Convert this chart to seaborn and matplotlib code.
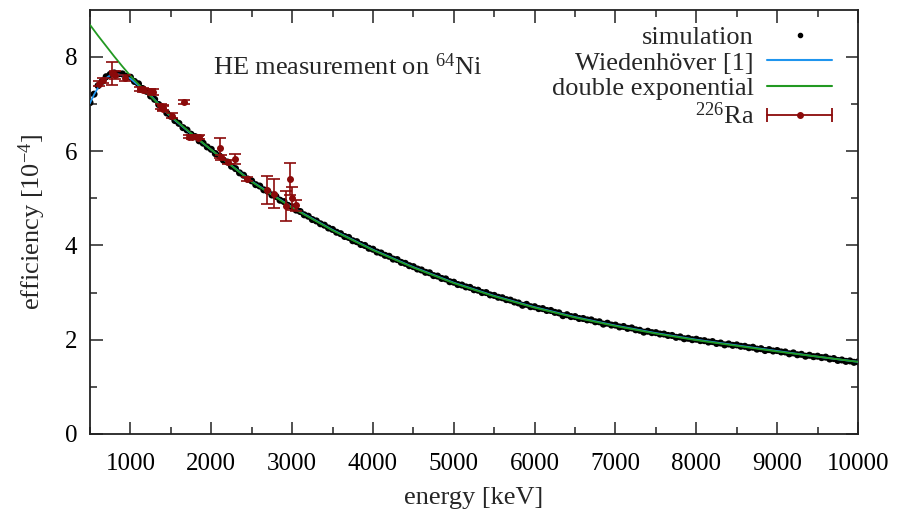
import numpy as np
import pandas as pd
import matplotlib
matplotlib.use("Agg")
import matplotlib.pyplot as plt
from matplotlib.lines import Line2D
from matplotlib.legend_handler import HandlerLine2D, HandlerTuple
import seaborn as sns

# --- simulated full-energy-peak efficiency (50 keV steps, units of 1e-4) ---
sim_energy = list(range(500, 10001, 50))
sim_eff = [
    7.03, 7.21, 7.39, 7.48, 7.58, 7.63, 7.66, 7.64, 7.64, 7.59,  # 500-950
    7.57, 7.48, 7.43, 7.33, 7.27, 7.17, 7.10, 6.99, 6.92, 6.81,  # 1000-1450
    6.74, 6.65, 6.59, 6.50, 6.45, 6.36, 6.31, 6.22, 6.17, 6.09,  # 1500-1950
    6.04, 5.95, 5.90, 5.81, 5.77, 5.68, 5.63, 5.54, 5.49, 5.41,  # 2000-2450
    5.37, 5.29, 5.26, 5.18, 5.15, 5.07, 5.04, 4.96, 4.93, 4.85,  # 2500-2950
    4.82, 4.75, 4.72, 4.65, 4.62, 4.55, 4.52, 4.46, 4.43, 4.37,  # 3000-3450
    4.34, 4.28, 4.25, 4.19, 4.17, 4.10, 4.08, 4.02, 4.00, 3.94,  # 3500-3950
    3.92, 3.86, 3.84, 3.79, 3.77, 3.71, 3.70, 3.64, 3.62, 3.57,  # 4000-4450
    3.55, 3.50, 3.48, 3.43, 3.42, 3.36, 3.35, 3.30, 3.29, 3.23,  # 4500-4950
    3.22, 3.17, 3.16, 3.12, 3.11, 3.06, 3.05, 3.00, 3.00, 2.95,  # 5000-5450
    2.94, 2.90, 2.89, 2.85, 2.84, 2.80, 2.78, 2.73, 2.75, 2.70,  # 5500-5950
    2.70, 2.66, 2.66, 2.62, 2.62, 2.58, 2.57, 2.51, 2.53, 2.49,  # 6000-6450
    2.49, 2.45, 2.45, 2.42, 2.42, 2.38, 2.38, 2.33, 2.35, 2.31,  # 6500-6950
    2.31, 2.27, 2.28, 2.24, 2.25, 2.21, 2.20, 2.16, 2.18, 2.15,  # 7000-7450
    2.15, 2.12, 2.12, 2.09, 2.09, 2.05, 2.06, 2.02, 2.03, 2.00,  # 7500-7950
    2.01, 1.98, 1.98, 1.95, 1.96, 1.92, 1.93, 1.89, 1.91, 1.88,  # 8000-8450
    1.89, 1.86, 1.86, 1.83, 1.84, 1.80, 1.81, 1.77, 1.79, 1.76,  # 8500-8950
    1.77, 1.74, 1.74, 1.70, 1.72, 1.68, 1.69, 1.65, 1.67, 1.64,  # 9000-9450
    1.65, 1.62, 1.63, 1.59, 1.60, 1.56, 1.57, 1.54, 1.55, 1.52,  # 9500-9950
    1.53,                                                        # 10000
]

# --- Wiedenhoever parametrisation ---
wied_energy = [500, 550, 600, 650, 700, 750, 800, 850, 900, 1000, 1250, 1500,
               1750, 2000, 2500, 3000, 3500, 4000, 4500, 5000, 5500, 6000,
               6500, 7000, 7500, 8000, 8500, 9000, 9500, 10000]
wied_eff = [7.02, 7.20, 7.35, 7.47, 7.55, 7.61, 7.63, 7.63, 7.61, 7.54, 7.18, 6.73,
            6.37, 6.03, 5.36, 4.81, 4.33, 3.91, 3.54, 3.21, 2.93, 2.69,
            2.48, 2.30, 2.14, 2.00, 1.88, 1.76, 1.64, 1.53]

# --- double exponential fit ---
dexp_energy = [500, 600, 700, 800, 900, 1000, 1100, 1200, 1300, 1400, 1500,
               1750, 2000, 2500, 3000, 3500, 4000, 4500, 5000, 5500, 6000,
               6500, 7000, 7500, 8000, 8500, 9000, 9500, 10000]
dexp_eff = [8.68, 8.45, 8.23, 8.01, 7.80, 7.60, 7.42, 7.25, 7.08, 6.91, 6.74,
            6.38, 6.03, 5.35, 4.80, 4.32, 3.90, 3.53, 3.20, 2.92, 2.68,
            2.47, 2.29, 2.13, 1.99, 1.87, 1.75, 1.64, 1.53]

# --- 226Ra source measurement ---
ra_energy = [609, 665, 768, 806, 934, 1120, 1155, 1238, 1281, 1378, 1401, 1408,
             1509, 1661, 1730, 1765, 1838, 1847, 2110, 2119, 2204, 2293, 2448,
             2695, 2770, 2928, 2978, 3000, 3054]
ra_eff = [7.43, 7.50, 7.65, 7.62, 7.55, 7.32, 7.30, 7.28, 7.25, 6.95, 6.92, 6.90,
          6.75, 7.05, 6.31, 6.30, 6.29, 6.30, 6.07, 5.87, 5.77, 5.83, 5.41,
          5.18, 5.10, 4.83, 5.41, 5.00, 4.85]
ra_err = [0.05, 0.06, 0.25, 0.08, 0.06, 0.05, 0.05, 0.05, 0.06, 0.06, 0.05, 0.05,
          0.05, 0.04, 0.04, 0.05, 0.04, 0.05, 0.22, 0.05, 0.05, 0.10, 0.05,
          0.29, 0.31, 0.32, 0.33, 0.25, 0.12]

sim_df = pd.DataFrame({"energy": sim_energy, "eff": sim_eff})
wied_df = pd.DataFrame({"energy": wied_energy, "eff": wied_eff})
dexp_df = pd.DataFrame({"energy": dexp_energy, "eff": dexp_eff})

sns.set_theme(style="ticks")
plt.rcParams["font.family"] = ["Liberation Serif", "DejaVu Serif"]
plt.rcParams["mathtext.fontset"] = "custom"
plt.rcParams["mathtext.rm"] = "Liberation Serif"
plt.rcParams["mathtext.it"] = "Liberation Serif:italic"
plt.rcParams["mathtext.default"] = "regular"

FS = 18
FS_TXT = 19
BLUE = "#1f95ee"
GREEN = "#229922"
RED = "#8b0a0a"

fig = plt.figure(figsize=(8.99, 5.16), dpi=100)
ax = fig.add_axes([0.1001, 0.159, 0.8543, 0.822])

sns.scatterplot(data=sim_df, x="energy", y="eff", ax=ax, color="black", s=26,
                edgecolor="none", linewidth=0, zorder=2, legend=False)
sns.lineplot(data=wied_df, x="energy", y="eff", ax=ax, color=BLUE, lw=1.3,
             zorder=3, legend=False)
sns.lineplot(data=dexp_df, x="energy", y="eff", ax=ax, color=GREEN, lw=1.3,
             zorder=4, legend=False)
ax.errorbar(ra_energy, ra_eff, yerr=ra_err, fmt="o", color=RED, ms=4,
            elinewidth=1.2, capsize=4, capthick=1.2, zorder=5)

ax.set_xlim(500, 10000)
ax.set_ylim(0, 9)
ax.set_xticks(range(1000, 10001, 1000))
ax.set_xticks(range(500, 10001, 500), minor=True)
ax.set_yticks([0, 2, 4, 6, 8])
ax.set_yticks([1, 3, 5, 7], minor=True)
ax.tick_params(which="both", direction="in", top=True, right=True,
               colors="#222222", labelcolor="black", labelsize=FS)
ax.tick_params(which="major", length=9, width=1.1, pad=9)
ax.tick_params(axis="x", which="major", pad=14)
ax.tick_params(which="minor", length=5, width=1.1)
for sp in ax.spines.values():
    sp.set_linewidth(1.3)
    sp.set_color("#222222")

ax.set_xlabel("energy [keV]", fontsize=FS_TXT, labelpad=8)
ax.set_ylabel("efficiency [10$^{-4}$]", fontsize=FS_TXT, labelpad=12)

ax.text(0.16, 0.866, "HE measurement on $^{64}$Ni", transform=ax.transAxes,
        fontsize=FS_TXT, va="center", ha="left")

# legend: text on the left, sample on the right
h_sim = Line2D([], [], ls="none", marker="o", ms=3, color="black")
h_wied = Line2D([], [], color=BLUE, lw=1.5)
h_dexp = Line2D([], [], color=GREEN, lw=1.5)
h_ra_bar = Line2D([], [], color=RED, lw=1.3, marker="|", ms=10, mew=1.3)
h_ra_pt = Line2D([], [], ls="none", marker="o", ms=4, color=RED)
leg = ax.legend([h_sim, h_wied, h_dexp, (h_ra_bar, h_ra_pt)],
                ["simulation", "Wiedenhöver [1]", "double exponential",
                 "$^{226}$Ra"],
                handler_map={h_ra_bar: HandlerLine2D(numpoints=2, marker_pad=0),
                             tuple: HandlerTuple(ndivide=1, pad=0)},
                loc="upper right", bbox_to_anchor=(0.966, 0.963),
                markerfirst=False, frameon=False, fontsize=FS_TXT, numpoints=1,
                handlelength=2.45, handletextpad=0.5, labelspacing=0.08,
                borderpad=0, borderaxespad=0)

fig.savefig("out.png", dpi=100)
